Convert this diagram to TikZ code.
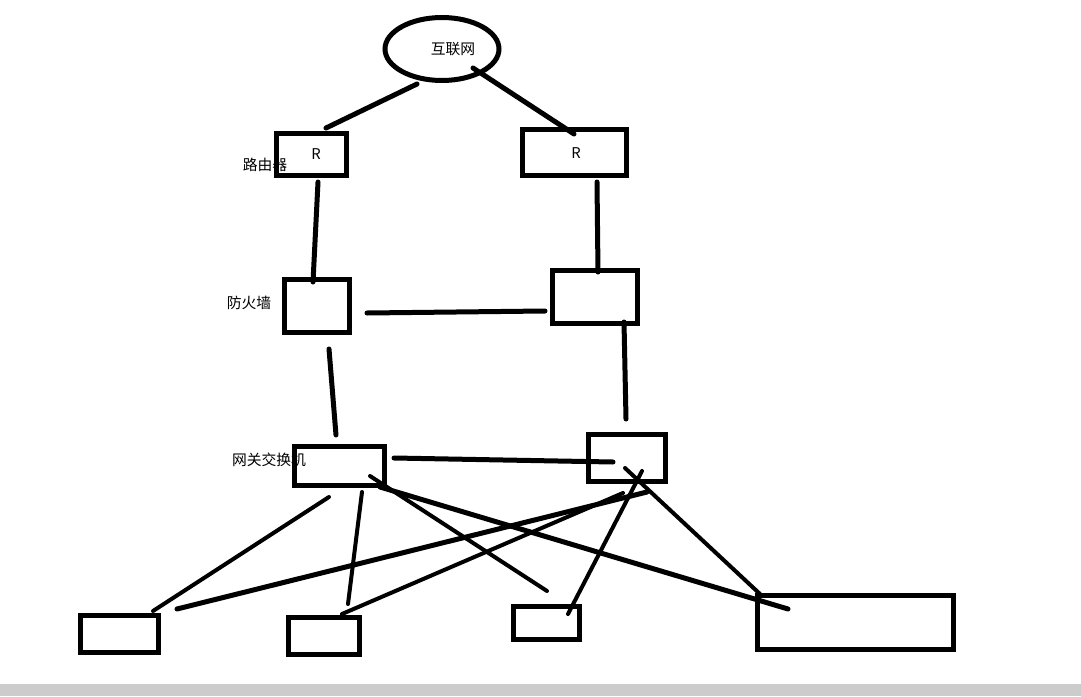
\documentclass[tikz,border=0pt]{standalone}
\usepackage{fontspec}
\setmainfont{Noto Sans CJK SC}
\usetikzlibrary{shapes.geometric}
\begin{document}
\begin{tikzpicture}[x=1pt,y=-1pt,
  box/.style={draw=black,line width=5pt,rectangle,inner sep=0pt},
  lbl/.style={inner sep=0pt,font=\fontsize{14.8}{17}\selectfont,text=black},
  conn/.style={line width=5pt,line cap=round},
  thin/.style={line width=4pt,line cap=round}]
\useasboundingbox (0,0) rectangle (1081,696);
\fill[white] (0,0) rectangle (1081,696);
\fill[black!20] (0,684) rectangle (1081,696);
% shapes
\node[ellipse,draw=black,line width=5pt,minimum width=114pt,minimum height=63pt,inner sep=0pt] (net) at (442,49) {};
\node[box,minimum width=70pt,minimum height=42pt] (r1) at (311.5,154.5) {};
\node[box,minimum width=104pt,minimum height=46pt] (r2) at (574.5,152.5) {};
\node[box,minimum width=65pt,minimum height=53pt] (fw1) at (317,306) {};
\node[box,minimum width=85pt,minimum height=53pt] (fw2) at (595,297) {};
\node[box,minimum width=90pt,minimum height=39pt] (sw1) at (339.5,466) {};
\node[box,minimum width=77pt,minimum height=47pt] (sw2) at (627,458) {};
\node[box,minimum width=78pt,minimum height=37pt] (b1) at (119.5,634) {};
\node[box,minimum width=71pt,minimum height=37pt] (b2) at (324,636) {};
\node[box,minimum width=66pt,minimum height=33pt] (b3) at (546.5,623) {};
\node[box,minimum width=196pt,minimum height=54pt] (b4) at (855.5,622.5) {};
% texts
\node[lbl] (tnet) at (453,49) {互联网};
\node[lbl] (tr1) at (316,154) {R};
\node[lbl] (tr2) at (576,153) {R};
\node[lbl] (trouter) at (265,165) {路由器};
\node[lbl] (tfw) at (249,303) {防火墙};
\node[lbl] (tsw) at (269,460) {网关交换机};
% connector end points
\coordinate (netA) at (417,84);   \coordinate (r1A) at (326,128);
\coordinate (netB) at (473,68);   \coordinate (r2A) at (574,134);
\coordinate (r1B) at (318,182);   \coordinate (fw1A) at (313,282);
\coordinate (r2B) at (597,182);   \coordinate (fw2A) at (598,272);
\coordinate (fw1B) at (367,313);  \coordinate (fw2B) at (545,311);
\coordinate (fw1C) at (329,349);  \coordinate (sw1A) at (336,435);
\coordinate (fw2C) at (624,322);  \coordinate (sw2A) at (626,419);
\coordinate (sw1B) at (394,458);  \coordinate (sw2B) at (613,462);
\coordinate (sw1C) at (329,497);  \coordinate (b1A) at (153,611);
\coordinate (sw1D) at (362,492);  \coordinate (b2A) at (348,604);
\coordinate (sw1E) at (370,476);  \coordinate (b3A) at (547,591);
\coordinate (sw1F) at (380,487);  \coordinate (b4A) at (788,609);
\coordinate (b1B) at (177,609);   \coordinate (sw2C) at (647,492);
\coordinate (b2B) at (342,614);   \coordinate (sw2D) at (623,493);
\coordinate (b3B) at (568,614);   \coordinate (sw2E) at (642,471);
\coordinate (sw2F) at (625,468);  \coordinate (b4B) at (760,594);
% connectors
\draw[conn] (netA) -- (r1A);
\draw[conn] (netB) -- (r2A);
\draw[conn] (r1B) -- (fw1A);
\draw[conn] (r2B) -- (fw2A);
\draw[conn] (fw1B) -- (fw2B);
\draw[conn] (fw1C) -- (sw1A);
\draw[conn] (fw2C) -- (sw2A);
\draw[conn] (sw1B) -- (sw2B);
\draw[thin] (sw1C) -- (b1A);
\draw[thin] (sw1D) -- (b2A);
\draw[thin] (sw1E) -- (b3A);
\draw[conn] (sw1F) -- (b4A);
\draw[conn] (b1B) -- (sw2C);
\draw[thin] (b2B) -- (sw2D);
\draw[thin] (b3B) -- (sw2E);
\draw[thin] (sw2F) -- (b4B);
\end{tikzpicture}
\end{document}
